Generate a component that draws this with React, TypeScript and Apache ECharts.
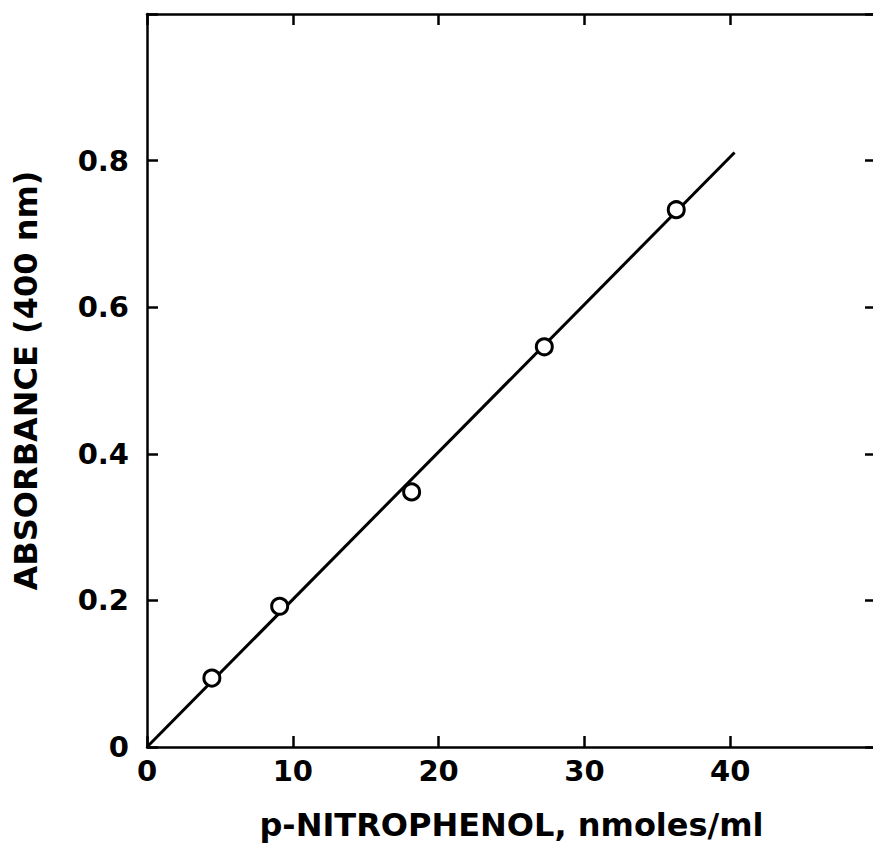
import React, { useEffect, useRef } from "react";
import * as echarts from "echarts";

const xTickLabels = ["0", "10", "20", "30", "40"];
const yTickLabels = ["0", "0.2", "0.4", "0.6", "0.8"];
const concentrations = [4.45, 9.1, 18.15, 27.25, 36.3];
const absorbances = [0.094, 0.192, 0.348, 0.546, 0.733];
const fitLineX = [0, 40.3];
const fitLineY = [0, 0.811];
const xTitle = "p-NITROPHENOL, nmoles/ml";
const yTitle = "ABSORBANCE (400 nm)";

const FONT = "'DejaVu Sans', sans-serif";

function axisLine() {
  return { show: true, onZero: false, lineStyle: { color: "#000", width: 2.5 } };
}
function innerTick() {
  return { show: true, inside: true, length: 11, lineStyle: { color: "#000", width: 2.5 } };
}

export default function App() {
  const ref = useRef<HTMLDivElement>(null);
  useEffect(() => {
    if (!ref.current) return;
    const chart = echarts.init(ref.current, null, { renderer: "svg" });
    chart.setOption({
      animation: false,
      backgroundColor: "#fff",
      grid: { left: 147, top: 14, width: 729, height: 733, containLabel: false },
      xAxis: [
        {
          type: "value",
          position: "bottom",
          min: 0,
          max: 50,
          interval: 10,
          axisLine: axisLine(),
          axisTick: innerTick(),
          splitLine: { show: false },
          axisLabel: {
            margin: 9,
            color: "#000",
            fontFamily: FONT,
            fontWeight: "bold",
            fontSize: 29,
            formatter: (v: number) => (xTickLabels.includes(String(v)) ? String(v) : ""),
          },
          name: xTitle,
          nameLocation: "middle",
          nameGap: 62,
          nameTextStyle: { color: "#000", fontFamily: FONT, fontWeight: "bold", fontSize: 32 },
        },
        {
          type: "value",
          position: "top",
          min: 0,
          max: 50,
          interval: 10,
          axisLine: axisLine(),
          axisTick: innerTick(),
          splitLine: { show: false },
          axisLabel: { show: false },
        },
      ],
      yAxis: [
        {
          type: "value",
          position: "left",
          min: 0,
          max: 1,
          interval: 0.2,
          axisLine: axisLine(),
          axisTick: innerTick(),
          splitLine: { show: false },
          axisLabel: {
            margin: 18,
            color: "#000",
            fontFamily: FONT,
            fontWeight: "bold",
            fontSize: 29,
            formatter: (v: number) => {
              const s = v === 0 ? "0" : v.toFixed(1);
              return yTickLabels.includes(s) ? s : "";
            },
          },
          name: yTitle,
          nameLocation: "middle",
          nameGap: 105,
          nameTextStyle: { color: "#000", fontFamily: FONT, fontWeight: "bold", fontSize: 32 },
        },
        {
          type: "value",
          position: "right",
          min: 0,
          max: 1,
          interval: 0.2,
          axisLine: axisLine(),
          axisTick: innerTick(),
          splitLine: { show: false },
          axisLabel: { show: false },
        },
      ],
      series: [
        {
          type: "line",
          data: fitLineX.map((x, i) => [x, fitLineY[i]]),
          showSymbol: false,
          symbol: "none",
          lineStyle: { color: "#000", width: 3 },
          z: 2,
        },
        {
          type: "scatter",
          data: concentrations.map((x, i) => [x, absorbances[i]]),
          symbol: "circle",
          symbolSize: 16,
          itemStyle: { color: "#fff", borderColor: "#000", borderWidth: 3, opacity: 1 },
          z: 3,
        },
      ],
    });
    return () => chart.dispose();
  }, []);
  return (
    <div style={{ position: "fixed", left: 0, top: 0, width: 873, height: 846, overflow: "hidden", background: "#fff" }}>
      <div ref={ref} style={{ width: 880, height: 846 }} />
    </div>
  );
}
